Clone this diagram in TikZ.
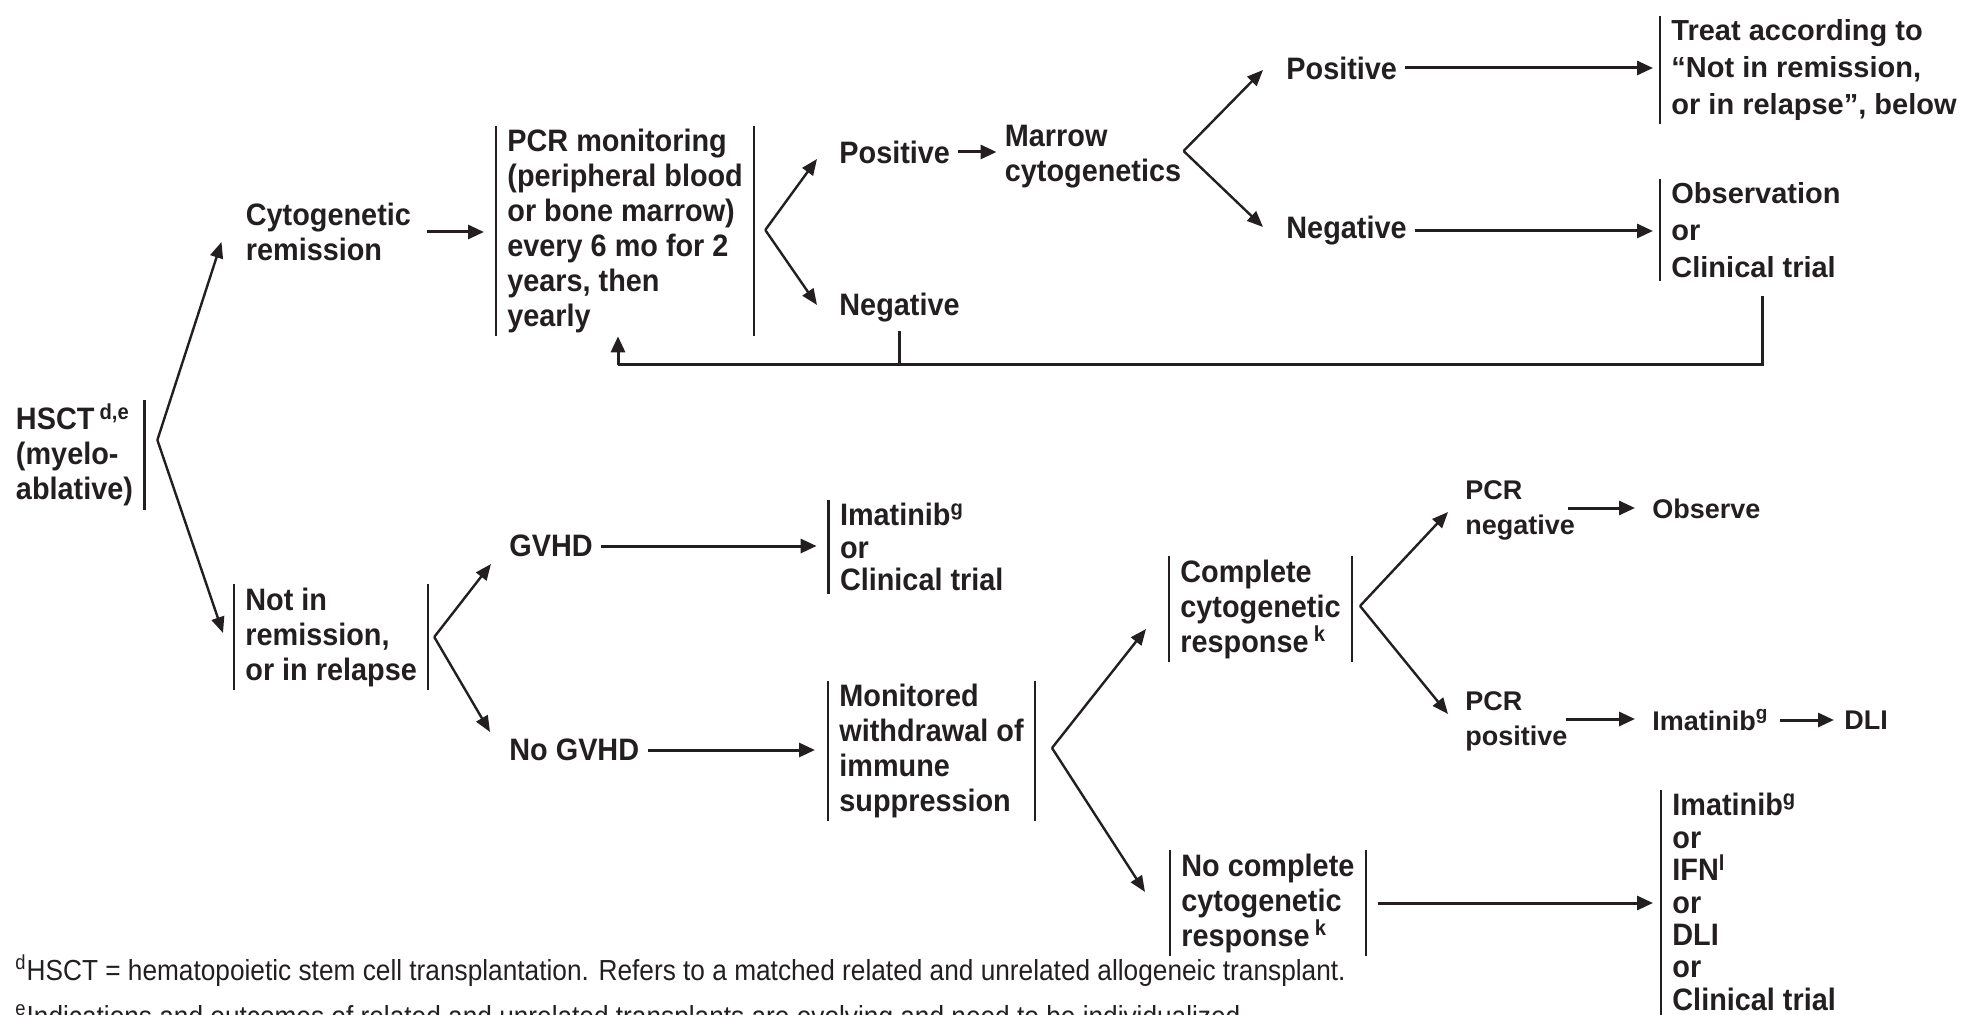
\documentclass[tikz,border=0pt]{standalone}
\usepackage{fontspec}
\setmainfont{Liberation Sans}
\newfontfamily\condfont{Liberation Sans}[FakeStretch=0.93]
\newfontfamily\notefont{Liberation Sans}[FakeStretch=0.905]
\usetikzlibrary{positioning, calc, arrows.meta}
\definecolor{ink}{RGB}{35,31,32}

\begin{document}
\begin{tikzpicture}[
  x=0.5pt, y=-0.5pt,
  every node/.style={text=ink},
  txt/.style={font={\condfont\bfseries\fontsize{15.5}{17.5}\selectfont}, align=left, anchor=west, inner xsep=4pt, inner ysep=2pt},
  txtw/.style={txt, font={\bfseries\fontsize{13.5}{17.5}\selectfont}},
  boxed/.style={txt, inner xsep=5.5pt, inner ysep=1.5pt},
  boxedw/.style={boxed, font={\bfseries\fontsize{14.5}{18.5}\selectfont}},
  list/.style={boxed, font={\condfont\bfseries\fontsize{15.5}{16.2}\selectfont}},
  note/.style={font={\notefont\fontsize{14.5}{17}\selectfont}, anchor=base west, inner sep=0pt},
  bar/.style={draw=ink, line width=1.2pt},
  fork/.style={draw=ink, line width=1.2pt, -{Triangle[length=8pt,width=6.5pt]}},
  arr/.style={draw=ink, line width=1.5pt, -{Triangle[length=8pt,width=7pt]}},
  back/.style={draw=ink, line width=1.5pt},
]

\useasboundingbox (0,0) rectangle (1963,1015);

% ---- top branch: in remission ----
\node[boxed] (hsct) at (4.6,455) {HSCT\,\textsuperscript{d,e}\\(myelo-\\ablative)};
\node[txt] (cytrem) at (237.5,232) {Cytogenetic\\remission};
\node[boxed] (pcrmon) at (496,231) {PCR monitoring\\(peripheral blood\\or bone marrow)\\every 6 mo for 2\\years, then\\yearly};
\node[txt] (pos1) at (831,152) {Positive};
\node[txt] (neg1) at (831,308) {Negative};
\node[txt] (marrow) at (996.5,157) {Marrow\\cytogenetics};
\node[txt] (pos2) at (1278,68) {Positive};
\node[txt] (neg2) at (1278,231) {Negative};
\node[boxedw] (treat) at (1660,70) {Treat according to\\“Not in remission,\\or in relapse”, below};
\node[boxedw] (obs) at (1660,230) {Observation\\or\\Clinical trial};

% ---- lower branch: not in remission ----
\node[boxed] (notrem) at (234,637) {Not in\\remission,\\or in relapse};
\node[txt] (gvhd) at (501,546) {GVHD};
\node[txt] (nogvhd) at (501,750) {No GVHD};
\node[list] (ima1) at (828.6,547) {Imatinib\textsuperscript{g}\\or\\Clinical trial};
\node[boxed] (monit) at (828,751) {Monitored\\withdrawal of\\immune\\suppression};
\node[boxed] (ccr) at (1169,609) {Complete\\cytogenetic\\response\,\textsuperscript{k}};
\node[boxed] (nccr) at (1170,903) {No complete\\cytogenetic\\response\,\textsuperscript{k}};
\node[txtw] (pcrneg) at (1457,510) {PCR\\negative};
\node[txtw] (observe) at (1644,509) {Observe};
\node[txtw] (pcrpos) at (1457,721) {PCR\\positive};
\node[txtw] (ima2) at (1644,720) {Imatinib\textsuperscript{g}};
\node[txtw] (dli) at (1836,720) {DLI};
\node[list, anchor=north west] (ima3) at (1661,790) {Imatinib\textsuperscript{g}\\or\\IFN\textsuperscript{l}\\or\\DLI\\or\\Clinical trial};

% ---- footnotes ----
\node[note] (note1) at (15,980) {\textsuperscript{d}HSCT = hematopoietic stem cell transplantation. Refers to a matched related and unrelated allogeneic transplant.};
\node[note] (note2) at (15,1026) {\textsuperscript{e}Indications and outcomes of related and unrelated transplants are evolving and need to be individualized.};

% ---- side bars ----
\draw[bar] (hsct.north east) -- (hsct.south east);
\draw[bar] (pcrmon.north west) -- (pcrmon.south west);
\draw[bar] (pcrmon.north east) -- (pcrmon.south east);
\draw[bar] (treat.north west) -- (treat.south west);
\draw[bar] (obs.north west) -- (obs.south west);
\draw[bar] (notrem.north west) -- (notrem.south west);
\draw[bar] (notrem.north east) -- (notrem.south east);
\draw[bar] (ima1.north west) -- (ima1.south west);
\draw[bar] (monit.north west) -- (monit.south west);
\draw[bar] (monit.north east) -- (monit.south east);
\draw[bar] (ccr.north west) -- (ccr.south west);
\draw[bar] (ccr.north east) -- (ccr.south east);
\draw[bar] (nccr.north west) -- (nccr.south west);
\draw[bar] (nccr.north east) -- (nccr.south east);
\draw[bar] (ima3.north west) -- ($(ima3.south west)+(0,20)$);

% ---- forks ----
\coordinate (hsctfork) at ($(hsct.east)+(13,-15)$);
\draw[fork] (hsctfork) -- ($(cytrem.west)+(-16,10)$);
\draw[fork] (hsctfork) -- ($(notrem.west)+(-11,-4)$);

\coordinate (pcrfork) at ($(pcrmon.east)+(11,-1)$);
\draw[fork] (pcrfork) -- ($(pos1.west)+(-14,7)$);
\draw[fork] (pcrfork) -- ($(neg1.west)+(-14,-3)$);

\coordinate (marrowfork) at ($(marrow.east)+(-6,-6)$);
\draw[fork] (marrowfork) -- ($(pos2.west)+(-15,2)$);
\draw[fork] (marrowfork) -- ($(neg2.west)+(-15,-4)$);

\coordinate (relapsefork) at ($(notrem.east)+(6,0)$);
\draw[fork] (relapsefork) -- ($(gvhd.west)+(-10,18)$);
\draw[fork] (relapsefork) -- ($(nogvhd.west)+(-11,-18)$);

\coordinate (monitfork) at ($(monit.east)+(17,-3)$);
\draw[fork] (monitfork) -- ($(ccr.west)+(-23,20)$);
\draw[fork] (monitfork) -- ($(nccr.west)+(-25,-11)$);

\coordinate (ccrfork) at ($(ccr.east)+(8,-3)$);
\draw[fork] (ccrfork) -- ($(pcrneg.west)+(-9,2)$);
\draw[fork] (ccrfork) -- ($(pcrpos.west)+(-9,-7)$);

% ---- straight arrows ----
\draw[arr] ($(cytrem.east)+(8,0)$) -- ($(cytrem.east -| pcrmon.west)+(-12,0)$);
\draw[arr] (pos1.east) -- (pos1.east -| marrow.west);
\draw[arr] (pos2.east) -- ($(pos2.east -| treat.west)+(-7,0)$);
\draw[arr] (neg2.east) -- ($(neg2.east -| obs.west)+(-7,0)$);
\draw[arr] (gvhd.east) -- ($(gvhd.east -| ima1.west)+(-12,0)$);
\draw[arr] (nogvhd.east) -- ($(nogvhd.east -| monit.west)+(-13,0)$);
\draw[arr] ($(pcrneg.east)+(-15,-2)$) -- ($(pcrneg.east -| observe.west)+(-9,-2)$);
\draw[arr] ($(pcrpos.east)+(-10,-2)$) -- ($(pcrpos.east -| ima2.west)+(-9,-2)$);
\draw[arr] ($(ima2.east)+(3,0)$) -- ($(ima2.east -| dli.west)+(-2,0)$);
\draw[arr] ($(nccr.east)+(12,0)$) -- ($(nccr.east -| ima3.west)+(-8,0)$);

% ---- feedback loop back to PCR monitoring ----
\coordinate (fbL) at (618,365);
\draw[back] ($(obs.south)+(6,15)$) |- (fbL);
\draw[back] ($(neg1.south)+(0,4)$) -- (neg1.south |- fbL);
\draw[arr] (fbL) -- (fbL |- pcrmon.south);

\end{tikzpicture}
\end{document}
